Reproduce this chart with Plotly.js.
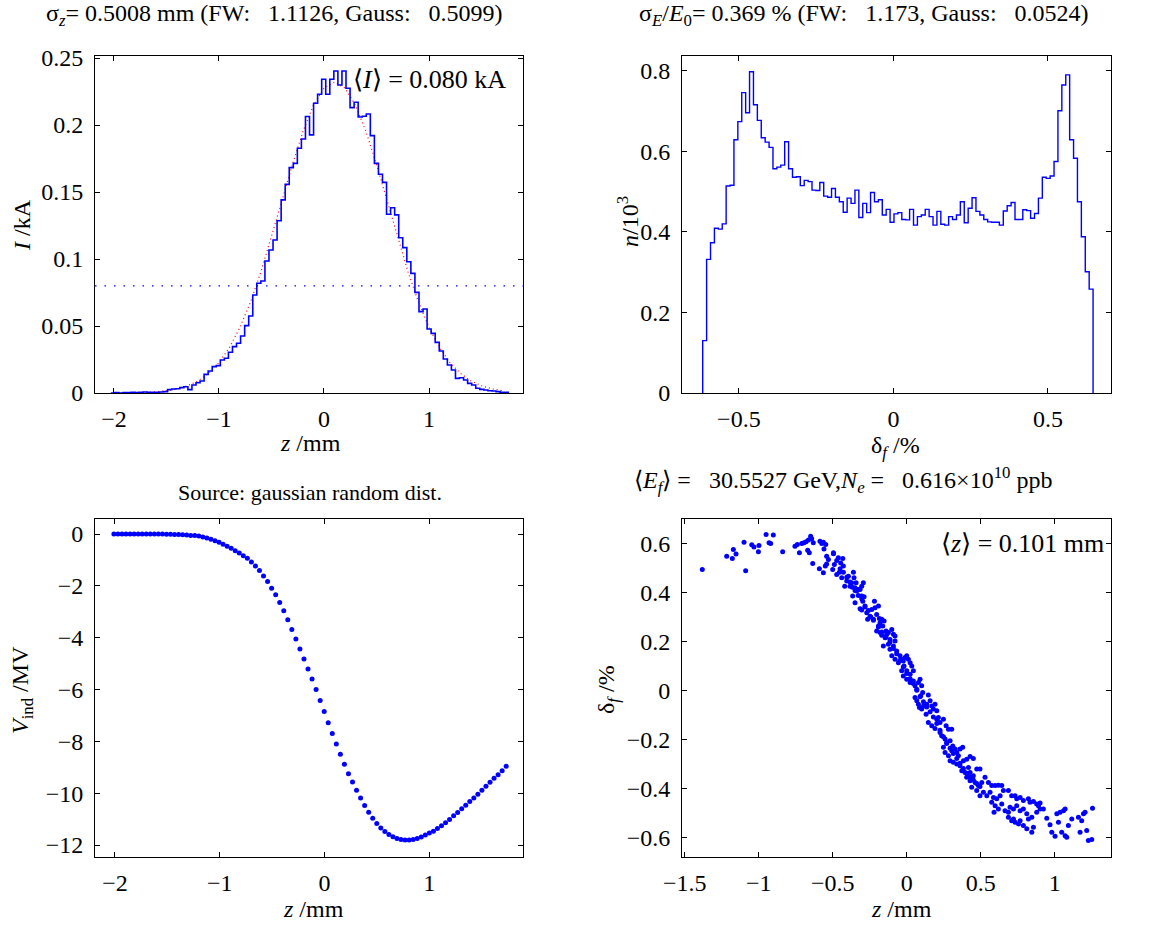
<!DOCTYPE html>
<html>
<head>
<meta charset="utf-8">
<script src="https://cdn.plot.ly/plotly-3.0.1.min.js"></script>
<style>html,body{margin:0;padding:0;background:#fff;}#chart{width:1156px;height:926px;}</style>
</head>
<body>
<div id="chart"></div>
<script>
// ---------- Data ----------
// Top-left: current histogram (kA), 98 bins in z (mm)
const zBinStart = -2.029;
const zBinWidth = 0.0386;
const currentKA = [
  0, 0.0003, 0, 0.0003, 0.0003, 0.0005, 0.0003, 0.0005, 0.0008, 0.0005,
  0.0005, 0.0005, 0.0007, 0.001, 0.0025, 0.003, 0.0032, 0.004, 0.0047, 0.0025,
  0.006, 0.0077, 0.009, 0.0139, 0.0164, 0.0197, 0.0204, 0.0246, 0.0259, 0.0304,
  0.0346, 0.0371, 0.0425, 0.0503, 0.0575, 0.0731, 0.0819, 0.0836, 0.0985, 0.1067,
  0.1142, 0.1286, 0.1441, 0.1557, 0.1682, 0.1714, 0.1826, 0.1896, 0.2063, 0.1926,
  0.2162, 0.2229, 0.2341, 0.2229, 0.2341, 0.2403, 0.2299, 0.2403, 0.2274, 0.2130,
  0.2170, 0.2060, 0.2065, 0.2082, 0.1921, 0.1714, 0.1632, 0.1572, 0.1334, 0.1383,
  0.1329, 0.1159, 0.1085, 0.0980, 0.0893, 0.0751, 0.0607, 0.0627, 0.0478, 0.0445,
  0.0378, 0.0313, 0.0254, 0.0209, 0.0172, 0.0109, 0.0114, 0.0097, 0.0072, 0.0060,
  0.0035, 0.0027, 0.0022, 0.0017, 0.0015, 0.0010, 0.0005, 0.0005
];
const meanCurrent = 0.080;
// Gaussian fit (red dotted), sampled every 0.1 mm from -2.0
const fitStart = -2.0;
const fitStep = 0.1;
const fitKA = [
  0.00005, 0.0001, 0.0002, 0.0005, 0.0009, 0.0017, 0.0031, 0.0054, 0.0090, 0.0146,
  0.0227, 0.0339, 0.0489, 0.0678, 0.0905, 0.1161, 0.1435, 0.1706, 0.1951, 0.2148,
  0.2276, 0.2320, 0.2276, 0.2148, 0.1951, 0.1706, 0.1435, 0.1161, 0.0905, 0.0678,
  0.0489, 0.0339, 0.0227, 0.0146, 0.0090, 0.0054, 0.0031, 0.0017
];

// Top-right: energy histogram (n/10^3), 100 bins in delta_f (%)
const dBinStart = -0.617;
const dBinWidth = 0.01263;
const countsK = [
  0.130, 0.332, 0.373, 0.409, 0.407, 0.420, 0.514, 0.516, 0.629, 0.674,
  0.746, 0.696, 0.798, 0.716, 0.677, 0.634, 0.623, 0.610, 0.557, 0.561,
  0.566, 0.624, 0.557, 0.536, 0.537, 0.515, 0.528, 0.525, 0.504, 0.503,
  0.523, 0.489, 0.486, 0.508, 0.486, 0.475, 0.449, 0.484, 0.471, 0.504,
  0.436, 0.471, 0.448, 0.498, 0.475, 0.480, 0.442, 0.456, 0.424, 0.445,
  0.448, 0.431, 0.430, 0.456, 0.417, 0.438, 0.442, 0.456, 0.438, 0.417,
  0.451, 0.419, 0.417, 0.438, 0.431, 0.442, 0.475, 0.423, 0.459, 0.485,
  0.451, 0.442, 0.431, 0.425, 0.424, 0.424, 0.417, 0.452, 0.465, 0.473,
  0.431, 0.431, 0.455, 0.453, 0.434, 0.446, 0.484, 0.536, 0.533, 0.539,
  0.575, 0.701, 0.765, 0.790, 0.629, 0.583, 0.475, 0.388, 0.301, 0.258
];

// Bottom-left: induced voltage (MV) at the z bin centres
const vIndMV = [
  0, 0, 0, 0, 0, 0, 0, 0, 0, 0,
  0, 0, 0, -0.005, -0.01, -0.015, -0.02, -0.03, -0.04, -0.055,
  -0.06, -0.08, -0.115, -0.154, -0.205, -0.256, -0.321, -0.397, -0.474, -0.551,
  -0.641, -0.731, -0.833, -0.936, -1.077, -1.231, -1.41, -1.615, -1.833, -2.09,
  -2.346, -2.641, -2.962, -3.308, -3.679, -4.051, -4.436, -4.821, -5.205, -5.59,
  -6.0, -6.423, -6.846, -7.282, -7.692, -8.103, -8.5, -8.885, -9.244, -9.564,
  -9.885, -10.18, -10.474, -10.731, -10.962, -11.167, -11.346, -11.474, -11.59, -11.679,
  -11.744, -11.782, -11.808, -11.808, -11.782, -11.744, -11.692, -11.615, -11.538, -11.462,
  -11.359, -11.256, -11.141, -11.013, -10.872, -10.744, -10.603, -10.462, -10.321, -10.179,
  -10.038, -9.885, -9.731, -9.577, -9.423, -9.282, -9.128, -8.96
];

// Bottom-right: particle scatter, z (mm) and delta_f (%)
const scatterZ = [
  -1.381, -1.216, -1.171, -1.178, -1.153, -1.099, -1.088, -1.047, -1.032, -0.998,
  -1.002, -0.950, -0.901, -0.930, -0.919, -0.838, -0.755, -0.739, -0.725, -0.709,
  -0.694, -0.680, -0.664, -0.649, -0.642, -0.631, -0.669, -0.658, -0.635, -0.590,
  -0.586, -0.574, -0.563, -0.547, -0.559, -0.541, -0.529, -0.563, -0.550, -0.495,
  -0.489, -0.500, -0.473, -0.462, -0.446, -0.432, -0.428, -0.455, -0.439, -0.419,
  -0.405, -0.394, -0.383, -0.372, -0.360, -0.356, -0.349, -0.342, -0.338, -0.327,
  -0.315, -0.304, -0.293, -0.365, -0.349, -0.304, -0.297, -0.288, -0.315, -0.304,
  -0.282, -0.270, -0.264, -0.248, -0.236, -0.218, -0.214, -0.203, -0.191, -0.185,
  -0.180, -0.169, -0.162, -0.153, -0.140, -0.146, -0.191, -0.225, -0.203, -0.180,
  -0.169, -0.135, -0.124, -0.113, -0.101, -0.090, -0.079, -0.079, -0.124, -0.158,
  -0.113, -0.090, -0.068, -0.101, -0.079, -0.056, -0.045, -0.034, -0.023, -0.011,
  0.000, 0.011, 0.023, 0.034, -0.018, -0.034, 0.000, 0.023, 0.045, -0.023,
  0.000, 0.023, 0.045, 0.056, 0.068, 0.079, 0.090, 0.101, 0.108, 0.095,
  0.056, 0.068, 0.079, 0.086, 0.101, 0.113, 0.135, 0.146, 0.158, 0.169,
  0.180, 0.191, 0.203, 0.214, 0.131, 0.146, 0.169, 0.191, 0.203, 0.225,
  0.248, 0.266, 0.282, 0.304, 0.225, 0.236, 0.259, 0.270, 0.293, 0.311,
  0.248, 0.259, 0.282, 0.304, 0.327, 0.338, 0.349, 0.360, 0.378, 0.293,
  0.315, 0.338, 0.360, 0.383, 0.405, 0.428, 0.450, 0.372, 0.394, 0.417,
  0.428, 0.450, 0.473, 0.495, 0.405, 0.428, 0.462, 0.484, 0.507, 0.529,
  0.552, 0.574, 0.597, 0.619, 0.642, 0.439, 0.473, 0.495, 0.518, 0.541,
  0.563, 0.586, 0.608, 0.631, 0.653, 0.687, 0.709, 0.732, 0.743, 0.766,
  0.788, 0.822, 0.833, 0.856, 0.878, 0.901, 0.923, 0.946, 0.901, 0.890,
  0.574, 0.597, 0.619, 0.590, 0.642, 0.664, 0.687, 0.698, 0.721, 0.743,
  0.766, 0.788, 0.811, 0.822, 0.845, 0.721, 0.732, 0.755, 0.766, 0.788,
  0.811, 0.845, 0.856, 0.878, 0.687, 0.709, 0.968, 0.980, 1.002, 1.014,
  1.036, 1.059, 1.070, 1.025, 1.047, 1.070, 1.081, 1.092, 1.115, 1.160,
  1.171, 1.182, 1.194, 1.205, 1.216, 1.227, 1.250, 1.255,
  -0.541, -0.495, -0.473, -0.450, -0.428, -0.405, -0.383, -0.367, -0.349, -0.327,
  -0.304, -0.282, -0.259, -0.243, -0.225, -0.191, -0.169, -0.140, -0.113, -0.090,
  -0.068, -0.045, -0.023, 0.000, 0.023, 0.045, 0.068, 0.090, 0.113, 0.135,
  0.158, 0.180, 0.203, 0.225, 0.248, 0.270, 0.293, 0.315, 0.338, 0.360,
  0.383, 0.405, 0.428, 0.450, 0.473, 0.495
];
const scatterDelta = [
  0.494, 0.548, 0.576, 0.539, 0.557, 0.605, 0.489, 0.595, 0.586, 0.592,
  0.566, 0.637, 0.635, 0.603, 0.600, 0.566, 0.589, 0.596, 0.562, 0.600,
  0.603, 0.607, 0.614, 0.630, 0.619, 0.603, 0.573, 0.562, 0.519, 0.497,
  0.609, 0.600, 0.605, 0.596, 0.578, 0.548, 0.535, 0.481, 0.508, 0.562,
  0.515, 0.494, 0.474, 0.542, 0.521, 0.539, 0.508, 0.483, 0.460, 0.426,
  0.447, 0.467, 0.426, 0.440, 0.483, 0.460, 0.420, 0.440, 0.406, 0.413,
  0.413, 0.426, 0.440, 0.386, 0.359, 0.386, 0.365, 0.383, 0.334, 0.329,
  0.345, 0.318, 0.291, 0.304, 0.331, 0.365, 0.338, 0.311, 0.345, 0.294,
  0.277, 0.291, 0.264, 0.284, 0.243, 0.216, 0.264, 0.291, 0.243, 0.237,
  0.226, 0.230, 0.237, 0.209, 0.250, 0.230, 0.223, 0.203, 0.189, 0.182,
  0.169, 0.182, 0.162, 0.142, 0.128, 0.114, 0.142, 0.128, 0.121, 0.135,
  0.142, 0.128, 0.114, 0.101, 0.101, 0.081, 0.081, 0.067, 0.081, 0.060,
  0.047, 0.033, 0.040, 0.020, 0.006, 0.033, 0.047, 0.020, -0.007, -0.021,
  -0.028, -0.041, -0.055, -0.069, -0.075, -0.062, -0.055, -0.018, -0.041, -0.062,
  -0.075, -0.055, -0.082, -0.109, -0.096, -0.130, -0.143, -0.154, -0.116, -0.130,
  -0.116, -0.143, -0.157, -0.157, -0.170, -0.184, -0.197, -0.211, -0.204, -0.225,
  -0.231, -0.252, -0.265, -0.245, -0.238, -0.252, -0.265, -0.238, -0.231, -0.286,
  -0.292, -0.299, -0.306, -0.286, -0.279, -0.268, -0.276, -0.326, -0.333, -0.313,
  -0.333, -0.347, -0.319, -0.319, -0.353, -0.367, -0.374, -0.387, -0.374, -0.353,
  -0.374, -0.387, -0.387, -0.385, -0.387, -0.394, -0.407, -0.428, -0.414, -0.428,
  -0.414, -0.435, -0.441, -0.428, -0.407, -0.407, -0.428, -0.428, -0.441, -0.435,
  -0.448, -0.441, -0.455, -0.452, -0.462, -0.458, -0.482, -0.520, -0.482, -0.469,
  -0.455, -0.469, -0.482, -0.496, -0.462, -0.489, -0.496, -0.475, -0.482, -0.469,
  -0.489, -0.482, -0.502, -0.523, -0.516, -0.523, -0.536, -0.543, -0.530, -0.550,
  -0.563, -0.577, -0.557, -0.496, -0.516, -0.530, -0.547, -0.577, -0.593, -0.502,
  -0.496, -0.489, -0.482, -0.536, -0.577, -0.591, -0.597, -0.550, -0.523, -0.516,
  -0.577, -0.530, -0.502, -0.496, -0.570, -0.611, -0.607, -0.479,
  0.517, 0.558, 0.531, 0.497, 0.483, 0.463, 0.443, 0.422, 0.409, 0.388,
  0.375, 0.341, 0.327, 0.300, 0.287, 0.260, 0.239, 0.219, 0.199, 0.172,
  0.151, 0.124, 0.097, 0.070, 0.049, 0.029, 0.002, -0.025, -0.045, -0.066,
  -0.086, -0.107, -0.134, -0.161, -0.188, -0.215, -0.235, -0.256, -0.276, -0.296,
  -0.317, -0.337, -0.351, -0.364, -0.378, -0.391
];

// ---------- Build step outlines from bin edges ----------
function stairs(start, width, vals) {
  const x = [start], y = [0];
  for (let k = 0; k < vals.length; k++) { x.push(start + k * width); y.push(vals[k]); }
  x.push(start + vals.length * width); y.push(0);
  return {x, y};
}
const tlStairs = stairs(zBinStart, zBinWidth, currentKA);
const trStairs = stairs(dBinStart, dBinWidth, countsK);
const zCentres = currentKA.map((_, k) => zBinStart + (k + 0.5) * zBinWidth);
const fitZ = fitKA.map((_, k) => fitStart + k * fitStep);

const BLUE = '#0000ff';
const FONT = '"Liberation Serif", "Times New Roman", Times, serif';

const traces = [
  {x: fitZ, y: fitKA, xaxis: 'x', yaxis: 'y', mode: 'lines',
   line: {color: '#ff0000', width: 1.2, dash: '1px,3px'}, hoverinfo: 'skip'},
  {x: tlStairs.x, y: tlStairs.y, xaxis: 'x', yaxis: 'y', mode: 'lines',
   line: {color: BLUE, width: 1.6, shape: 'hv'}},
  {x: trStairs.x, y: trStairs.y, xaxis: 'x2', yaxis: 'y2', mode: 'lines',
   line: {color: BLUE, width: 1.4, shape: 'hv'}},
  {x: zCentres, y: vIndMV, xaxis: 'x3', yaxis: 'y3', mode: 'markers',
   marker: {color: BLUE, size: 5}},
  {x: scatterZ, y: scatterDelta, xaxis: 'x4', yaxis: 'y4', mode: 'markers',
   marker: {color: BLUE, size: 5}}
];

const W = 1156, H = 926;
const px = v => v / W;
const py = v => 1 - v / H;

function ax(extra) {
  return Object.assign({
    showline: true, linecolor: '#000', linewidth: 1, mirror: 'ticks',
    ticks: 'inside', ticklen: 5, tickwidth: 1, tickcolor: '#000',
    showgrid: false, zeroline: false, fixedrange: true,
    tickfont: {family: FONT, size: 24, color: '#000'}
  }, extra);
}

const xTL = [px(95), px(523)], xTR = [px(682), px(1111)];
const yTop = [py(393), py(56)], yBot = [py(857), py(519)];

const layout = {
  width: W, height: H, showlegend: false,
  margin: {l: 0, r: 0, t: 0, b: 0},
  paper_bgcolor: '#fff', plot_bgcolor: '#fff',
  font: {family: FONT, color: '#000'},
  xaxis: ax({domain: xTL, anchor: 'y', range: [-2.18, 1.895], tickvals: [-2, -1, 0, 1], ticklabelstandoff: 4}),
  yaxis: ax({domain: yTop, anchor: 'x', range: [0, 0.2515], tickvals: [0, 0.05, 0.1, 0.15, 0.2, 0.25],
             ticktext: ['0', '0.05', '0.1', '0.15', '0.2', '0.25'], ticklabelstandoff: 6}),
  xaxis2: ax({domain: xTR, anchor: 'y2', range: [-0.684, 0.704], tickvals: [-0.5, 0, 0.5], ticklabelstandoff: 4}),
  yaxis2: ax({domain: yTop, anchor: 'x2', range: [0, 0.837], tickvals: [0, 0.2, 0.4, 0.6, 0.8], ticklabelstandoff: 6}),
  xaxis3: ax({domain: xTL, anchor: 'y3', range: [-2.19, 1.895], tickvals: [-2, -1, 0, 1], ticklabelstandoff: 4}),
  yaxis3: ax({domain: yBot, anchor: 'x3', range: [-12.46, 0.58], tickvals: [-12, -10, -8, -6, -4, -2, 0], ticklabelstandoff: 6}),
  xaxis4: ax({domain: xTR, anchor: 'y4', range: [-1.518, 1.38], tickvals: [-1.5, -1, -0.5, 0, 0.5, 1], ticklabelstandoff: 4}),
  yaxis4: ax({domain: yBot, anchor: 'x4', range: [-0.678, 0.70], tickvals: [-0.6, -0.4, -0.2, 0, 0.2, 0.4, 0.6], ticklabelstandoff: 6}),
  shapes: [
    {type: 'line', xref: 'x domain', yref: 'y', x0: 0, x1: 1, y0: meanCurrent, y1: meanCurrent,
     line: {color: BLUE, width: 1.2, dash: '1.5px,8px'}}
  ],
  annotations: []
};

function note(text, x, y, opts) {
  layout.annotations.push(Object.assign({
    text: text, xref: 'paper', yref: 'paper', x: px(x), y: py(y),
    showarrow: false, xanchor: 'center', yanchor: 'middle',
    font: {family: FONT, size: 24, color: '#000'}
  }, opts || {}));
}
const S = '\u00a0';
const S3 = S + S + S;
// titles
note('σ<sub><i>z</i></sub>= 0.5008 mm (FW:' + S3 + '1.1126, Gauss:' + S3 + '0.5099)', 274, 15);
note('σ<sub><i>E</i></sub>/<i>E</i><sub>0</sub>= 0.369 % (FW:' + S3 + '1.173, Gauss:' + S3 + '0.0524)', 864, 15);
note('Source: gaussian random dist.', 310, 493, {font: {family: FONT, size: 22, color: '#000'}});
note('⟨<i>E</i><sub><i>f</i></sub>⟩ =' + S3 + '30.5527 GeV,<i>N</i><sub><i>e</i></sub> =' + S3 + '0.616×10<sup>10</sup> ppb', 843, 480);
// axis labels
const AL = {font: {family: FONT, size: 24, color: '#000'}};
note('<i>z</i> /mm', 310, 443, AL);
note('δ<sub><i>f</i></sub> /%', 895, 447, AL);
note('<i>z</i> /mm', 313, 909, AL);
note('<i>z</i> /mm', 901, 909, AL);
note('<i>I</i> /kA', 22, 225, Object.assign({textangle: -90}, AL));
note('<i>n</i>/10<sup>3</sup>', 628, 222, Object.assign({textangle: -90}, AL));
note('<i>V</i><sub>ind</sub> /MV', 22, 690, Object.assign({textangle: -90}, AL));
note('δ<sub><i>f</i></sub> /%', 608, 690, Object.assign({textangle: -90}, AL));
// in-plot labels
const IL = {xanchor: 'right', font: {family: FONT, size: 26, color: '#000'}};
note('⟨<i>I</i>⟩ = 0.080 kA', 508, 80, IL);
note('⟨<i>z</i>⟩ = 0.101 mm', 1106, 543, IL);

Plotly.newPlot('chart', traces, layout, {staticPlot: true, displayModeBar: false});
</script>
</body>
</html>
